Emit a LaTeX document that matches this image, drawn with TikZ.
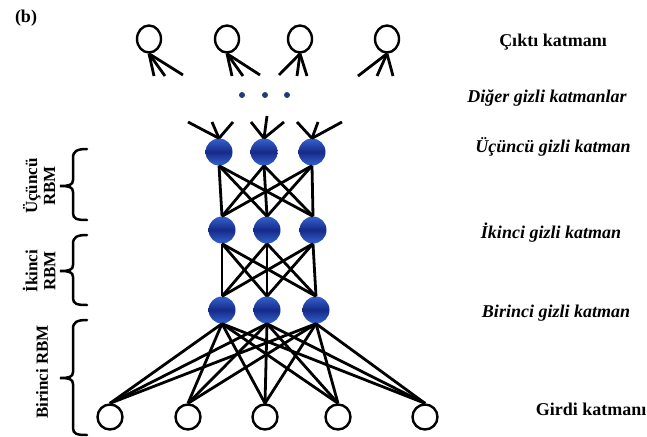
\documentclass[tikz,border=0pt]{standalone}
\usepackage{fontspec}
\setmainfont{Liberation Serif}
\usetikzlibrary{shapes.geometric}
\definecolor{ballmid}{RGB}{22,42,135}
\definecolor{balledge}{RGB}{52,98,208}
\definecolor{dotblue}{RGB}{35,60,120}
\begin{document}
\begin{tikzpicture}[x=1pt,y=-1pt,
  link/.style={line width=2.8pt},
  bracepath/.style={line width=2.5pt,line cap=round},
  ring/.style={circle,draw,line width=2.4pt,minimum size=25pt,inner sep=0pt},
  outring/.style={ellipse,draw,line width=2.4pt,minimum width=24pt,minimum height=27pt,inner sep=0pt},
  ball/.style={circle,minimum size=27pt,inner sep=0pt,top color=balledge,bottom color=balledge,middle color=ballmid},
  dotnode/.style={circle,fill=dotblue,minimum size=6pt,inner sep=0pt},
  uplab/.style={font=\fontsize{18}{18}\selectfont\bfseries},
  itlab/.style={font=\fontsize{18}{18}\selectfont\bfseries\itshape},
  sidelab/.style={font=\fontsize{17}{18}\selectfont\bfseries,rotate=90,align=center}]
\useasboundingbox (0,0) rectangle (647,436);

% panel tag
\node[uplab] (tag) at (26,18) {(b)};

% output layer
\node[outring] (o1) at (149,39) {};
\node[outring] (o2) at (227,39) {};
\node[outring] (o3) at (300,39) {};
\node[outring] (o4) at (387,39) {};

% loose links below the output units
\coordinate (o1a) at (154,76); \coordinate (o1b) at (165,76); \coordinate (o1c) at (183,75);
\coordinate (o2a) at (232,76); \coordinate (o2b) at (243,76); \coordinate (o2c) at (260,75);
\coordinate (o3a) at (279,75); \coordinate (o3b) at (297,76); \coordinate (o3c) at (307,76);
\coordinate (o4a) at (358,76); \coordinate (o4b) at (377,76); \coordinate (o4c) at (393,76);
\foreach \u in {1,2,3,4}
  \foreach \e in {a,b,c}
    \draw[link] (o\u.south) -- (o\u\e);

% further hidden layers
\node[dotnode] (d1) at (242,95) {};
\node[dotnode] (d2) at (265,95) {};
\node[dotnode] (d3) at (287,95) {};

% hidden layers
\node[ball] (h31) at (219,152) {};
\node[ball] (h32) at (264,152) {};
\node[ball] (h33) at (312,152) {};
\node[ball] (h21) at (222,230) {};
\node[ball] (h22) at (267,230) {};
\node[ball] (h23) at (313,230) {};
\node[ball] (h11) at (222,310) {};
\node[ball] (h12) at (267,310) {};
\node[ball] (h13) at (316,310) {};

% loose links above the third hidden layer
\coordinate (t1a) at (188,122); \coordinate (t1b) at (212,122); \coordinate (t1c) at (233,122);
\coordinate (t2a) at (251,122); \coordinate (t2b) at (267,116); \coordinate (t2c) at (284,122);
\coordinate (t3a) at (297,122); \coordinate (t3b) at (318,122); \coordinate (t3c) at (342,122);
\foreach \u in {1,2,3}
  \foreach \e in {a,b,c}
    \draw[link] (h3\u.north) -- (t\u\e);

% input layer
\node[ring] (i1) at (110,417) {};
\node[ring] (i2) at (188,417) {};
\node[ring] (i3) at (265,417) {};
\node[ring] (i4) at (338,417) {};
\node[ring] (i5) at (425,417) {};

% full connections between adjacent layers
\foreach \a in {1,2,3}
  \foreach \b in {1,2,3} {
    \draw[link] (h3\a.south) -- (h2\b.north);
    \draw[link] (h2\a.south) -- (h1\b.north);
  }
\foreach \a in {1,2,3}
  \foreach \b in {1,...,5}
    \draw[link] (h1\a.south) -- (i\b.north);

% braces marking each RBM
\draw[bracepath] (87,149) .. controls (77,149) and (73,151) .. (73,158) -- (73,180)
  .. controls (73,185) and (69,186) .. (60,186)
  .. controls (69,186) and (73,187) .. (73,192) -- (73,213)
  .. controls (73,219) and (77,220) .. (87,220);
\draw[bracepath] (87,235) .. controls (77,235) and (73,237) .. (73,244) -- (73,265)
  .. controls (73,270) and (69,271) .. (60,271)
  .. controls (69,271) and (73,272) .. (73,277) -- (73,298)
  .. controls (73,304) and (77,305) .. (87,305);
\draw[bracepath] (87,320) .. controls (77,320) and (73,322) .. (73,329) -- (73,372)
  .. controls (73,377) and (69,378) .. (60,378)
  .. controls (69,378) and (73,379) .. (73,384) -- (73,428)
  .. controls (73,434) and (77,435) .. (87,435);

\node[sidelab] (r3) at (39,186) {Üçüncü\\RBM};
\node[sidelab] (r2) at (39,271) {İkinci\\RBM};
\node[sidelab] (r1) at (42,372) {Birinci RBM};

% layer names
\node[uplab] (n1) at (553,42) {Çıktı katmanı};
\node[itlab] (n2) at (547,98) {Diğer gizli katmanlar};
\node[itlab] (n3) at (553,147) {Üçüncü gizli katman};
\node[itlab] (n4) at (551,233) {İkinci gizli katman};
\node[itlab] (n5) at (556,313) {Birinci gizli katman};
\node[uplab] (n6) at (591,409) {Girdi katmanı};
\end{tikzpicture}
\end{document}
